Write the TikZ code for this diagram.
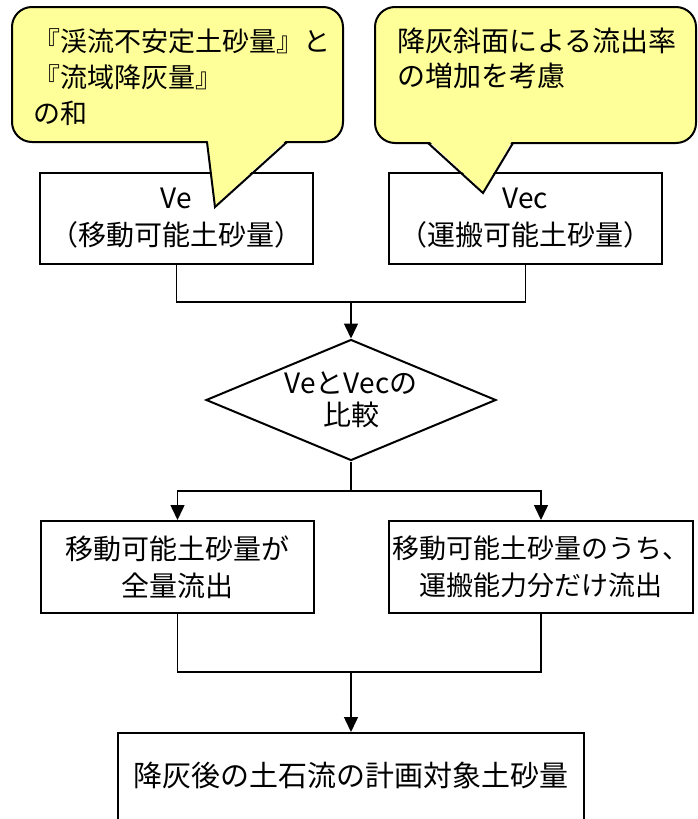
\documentclass[tikz,border=0pt]{standalone}
\usepackage{fontspec}
\setmainfont{Noto Sans CJK JP}
\usetikzlibrary{shapes.geometric,arrows.meta}
\definecolor{callfill}{HTML}{FFFF99}
\begin{document}
\begin{tikzpicture}[x=1pt,y=-1pt,
  box/.style={draw, line width=2pt, inner sep=0pt, align=center, font=\fontsize{28}{37}\selectfont},
  conn/.style={line width=1.5pt},
  arr/.style={line width=1.5pt, -{Triangle[width=14pt,length=15pt]}},
  callout/.style={draw, line width=2pt, fill=callfill},
  calltext/.style={anchor=north west, align=left, inner sep=0pt},
]
\useasboundingbox (0,0) rectangle (697,819);
\clip (0,0) rectangle (697,819);

% boxes
\node[box, minimum width=273pt, minimum height=91pt] (ve) at (176.5,218.5) {Ve\\（移動可能土砂量）};
\node[box, minimum width=273pt, minimum height=91pt] (vec) at (525.5,218.5) {Vec\\（運搬可能土砂量）};
\node[draw, line width=2pt, diamond, aspect=2.4, inner sep=0pt, minimum width=290pt, minimum height=121pt] (cmp) at (351,400) {};
\node[align=center, inner sep=0pt, font=\fontsize{28}{32}\selectfont] (cmptext) at (351,400) {VeとVecの\\比較};
\node[box, minimum width=273pt, minimum height=92pt] (all) at (177.5,567) {移動可能土砂量が\\全量流出};
\node[box, minimum width=304pt, minimum height=92pt, font=\fontsize{27}{37}\selectfont] (part) at (541,567) {移動可能土砂量のうち、\\運搬能力分だけ流出};
\node[draw, line width=2pt, minimum width=466pt, minimum height=110pt, anchor=north] (res) at (351,732) {};
\node[inner sep=0pt, font=\fontsize{29}{37}\selectfont] (restext) at (351,775) {降灰後の土石流の計画対象土砂量};

% junctions
\coordinate (j1) at (351,302);
\coordinate (j2) at (351,491);
\coordinate (j3) at (351,672);

% connectors
\draw[conn] (ve.south) |- (j1) -| (vec.south);
\draw[arr] (j1) -- (cmp.north);
\draw[conn] (cmp.south) -- (j2);
\draw[arr] (j2) -| (all.north);
\draw[arr] (j2) -| (part.north);
\draw[conn] (all.south) |- (j3) -| (part.south);
\draw[arr] (j3) -- (res.north);

% left callout
\draw[callout, rounded corners=20pt] (12,7) rectangle (343,142);
\fill[callfill] (207.6,140) -- (215,205.5) -- (286.5,140) -- cycle;
\draw[line width=2pt, line join=miter] (207,142) -- (215,207) -- (287,142);
\node[calltext, font=\fontsize{27}{36}\selectfont] (c1text) at (33,28) {『渓流不安定土砂量』と\\『流域降灰量』\\の和};

% right callout
\draw[callout, rounded corners=20pt] (375,7) rectangle (696,143);
\fill[callfill] (429,141) -- (483,191.5) -- (512,141) -- cycle;
\draw[line width=2pt, line join=miter] (428,143) -- (483,193) -- (513,143);
\node[calltext, font=\fontsize{28}{35}\selectfont] (c2text) at (397,28) {降灰斜面による流出率\\の増加を考慮};
\end{tikzpicture}
\end{document}
